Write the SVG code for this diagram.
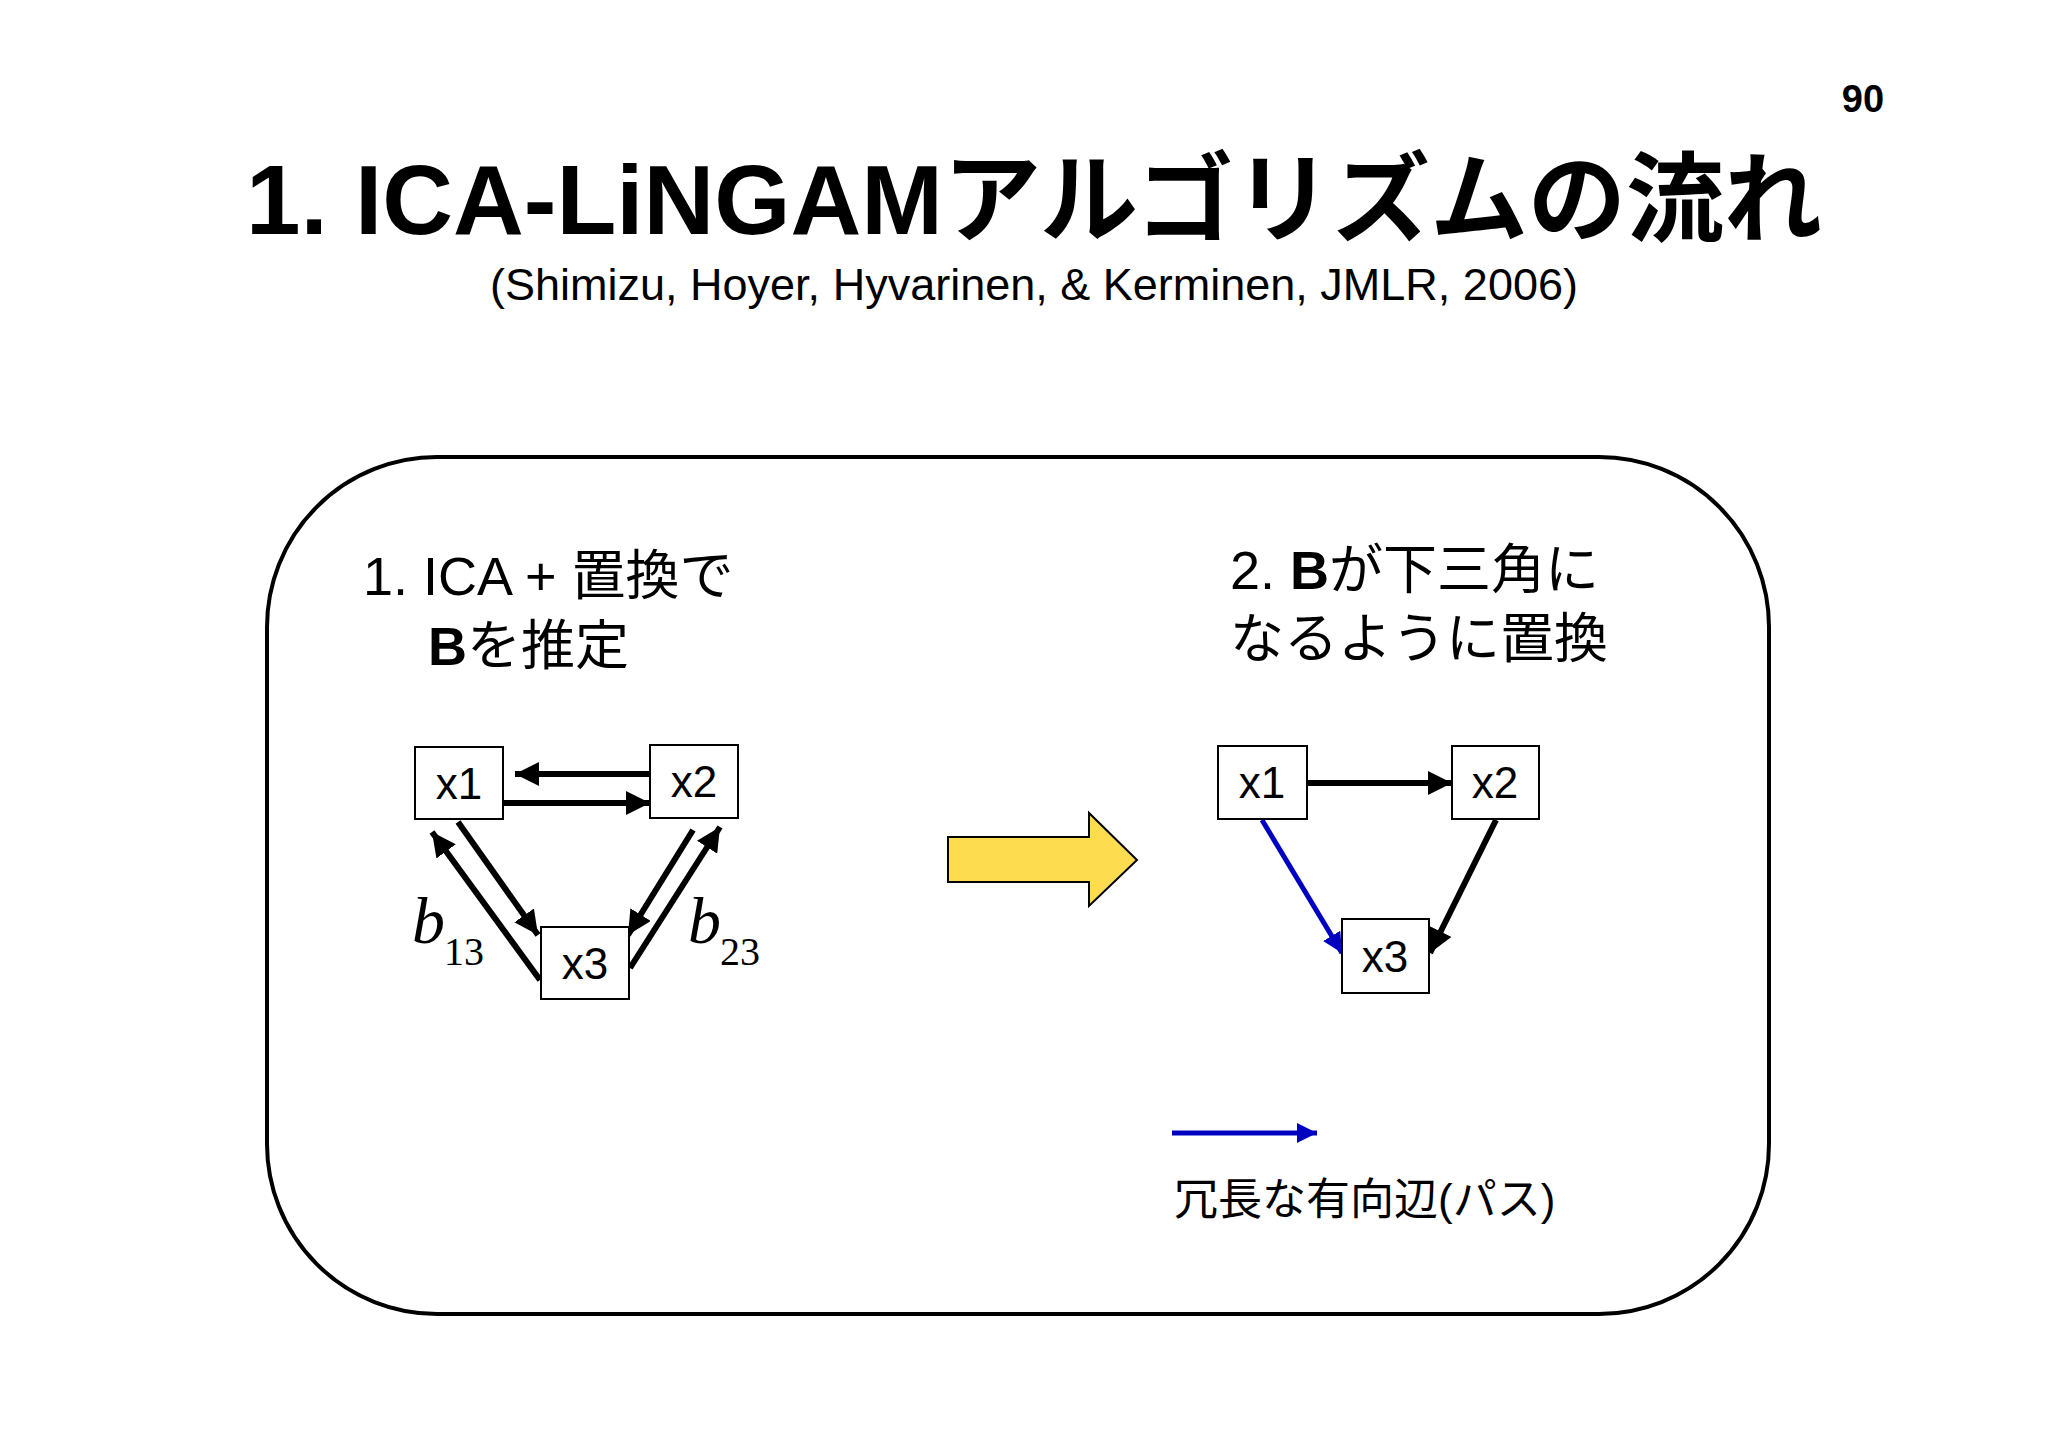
<svg xmlns="http://www.w3.org/2000/svg" width="2048" height="1448" viewBox="0 0 2048 1448">
<defs>
<marker id="ah" viewBox="0 0 10 10" refX="10" refY="5" markerWidth="4" markerHeight="4" orient="auto" markerUnits="strokeWidth"><path d="M0,0L10,5L0,10z" fill="#000"/></marker>
<marker id="ahb" viewBox="0 0 10 10" refX="10" refY="5" markerWidth="4" markerHeight="4" orient="auto" markerUnits="strokeWidth"><path d="M0,0L10,5L0,10z" fill="#0000c0"/></marker>
<style>
text{font-family:"Liberation Sans","Noto Sans CJK JP",sans-serif;fill:#000}
.box{fill:#fff;stroke:#000;stroke-width:2}
.lbl{font-size:44px;text-anchor:middle}
.e{stroke:#000;stroke-width:6;fill:none;marker-end:url(#ah)}
.eb{stroke:#0000c0;stroke-width:5;fill:none;marker-end:url(#ahb)}
.b{font-family:"Liberation Serif",serif;font-style:italic;font-size:66px}
.s{font-family:"Liberation Serif",serif;font-size:40px}
.t{font-size:54px}
</style>
</defs>
<rect width="2048" height="1448" fill="#fff"/>
<text x="1863" y="112" font-size="38" font-weight="bold" text-anchor="middle">90</text>
<text x="1034" y="234" font-size="98" font-weight="bold" text-anchor="middle">1. ICA-LiNGAMアルゴリズムの流れ</text>
<text x="1034" y="300" font-size="45" text-anchor="middle">(Shimizu, Hoyer, Hyvarinen, &amp; Kerminen, JMLR, 2006)</text>
<rect x="267" y="457" width="1502" height="857" rx="170" ry="170" fill="none" stroke="#000" stroke-width="4"/>
<text class="t" x="363" y="595">1. ICA + 置換で</text>
<text class="t" x="428" y="665"><tspan font-weight="bold">B</tspan>を推定</text>
<text class="t" x="1230" y="589">2. <tspan font-weight="bold">B</tspan>が下三角に</text>
<text class="t" x="1230" y="658">なるように置換</text>
<path d="M948,837H1089V813L1137,860L1089,906V882H948z" fill="#fddc4f" stroke="#000" stroke-width="2"/>
<g id="connectors">
<line class="e" x1="650" y1="774" x2="515" y2="774"/>
<line class="e" x1="503" y1="803" x2="650" y2="803"/>
<line class="e" x1="458" y1="822" x2="538" y2="935"/>
<line class="e" x1="540" y1="980" x2="432" y2="832"/>
<line class="e" x1="693" y1="830" x2="628" y2="935"/>
<line class="e" x1="630" y1="968" x2="720" y2="827"/>
<line class="e" x1="1307" y1="783" x2="1452" y2="783"/>
<line class="eb" x1="1262" y1="820" x2="1342" y2="953"/>
<line class="e" x1="1496" y1="820" x2="1430" y2="953"/>
<line class="eb" x1="1172" y1="1133" x2="1317" y2="1133"/>
</g>
<g id="L1"><rect class="box" x="415" y="747" width="88" height="72"/><text class="lbl" x="459" y="799">x1</text></g>
<g id="L2"><rect class="box" x="650" y="745" width="88" height="73"/><text class="lbl" x="694" y="797">x2</text></g>
<g id="L3"><rect class="box" x="541" y="927" width="88" height="72"/><text class="lbl" x="585" y="979">x3</text></g>
<g id="R1"><rect class="box" x="1218" y="746" width="89" height="73"/><text class="lbl" x="1262" y="798">x1</text></g>
<g id="R2"><rect class="box" x="1452" y="746" width="87" height="73"/><text class="lbl" x="1495" y="798">x2</text></g>
<g id="R3"><rect class="box" x="1342" y="919" width="87" height="74"/><text class="lbl" x="1385" y="972">x3</text></g>
<text class="b" x="412" y="943">b</text><text class="s" x="444" y="965">13</text>
<text class="b" x="688" y="943">b</text><text class="s" x="720" y="965">23</text>
<text x="1174" y="1215" font-size="44">冗長な有向辺(パス)</text>
</svg>
